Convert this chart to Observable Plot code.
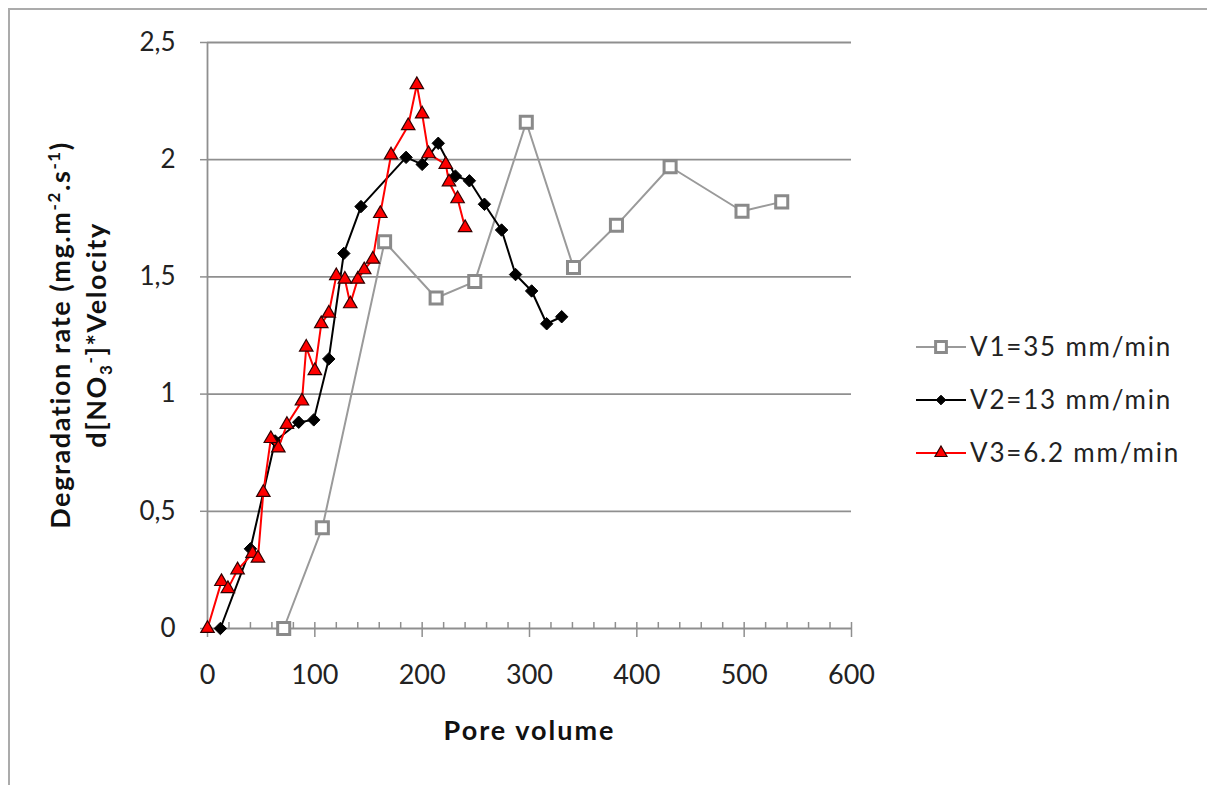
<!DOCTYPE html>
<html><head><meta charset="utf-8">
<script src="https://cdn.jsdelivr.net/npm/d3@7"></script>
<script src="https://cdn.jsdelivr.net/npm/@observablehq/plot@0.6"></script>
<style>
body{margin:0;background:#fff;}
#chart{position:relative;width:1207px;height:785px;}
</style></head><body><div id="chart"></div>
<script>
// ---- data ----
const seriesNames = ["V1=35 mm/min", "V2=13 mm/min", "V3=6.2 mm/min"];

const v1X = [71, 107, 165, 213, 249, 297, 341, 381, 431, 498, 535];
const v1Y = [0, 0.43, 1.65, 1.41, 1.48, 2.16, 1.54, 1.72, 1.97, 1.78, 1.82];

const v2X = [12, 40, 63, 85, 99, 113, 127, 143, 185, 200, 215, 231, 244, 258, 274, 287, 302, 316, 330];
const v2Y = [0, 0.34, 0.80, 0.88, 0.89, 1.15, 1.60, 1.80, 2.01, 1.98, 2.07, 1.93, 1.91, 1.81, 1.70, 1.51, 1.44, 1.30, 1.33];

const v3X = [0, 13, 19, 28, 42, 47, 52, 59, 66, 74, 88, 92, 100, 106, 113, 120, 128, 133, 140, 146, 154, 161, 171, 187, 195, 200, 206, 222, 225, 233, 240];
const v3Y = [0, 0.20, 0.17, 0.25, 0.32, 0.30, 0.58, 0.81, 0.77, 0.87, 0.97, 1.20, 1.10, 1.30, 1.345, 1.505, 1.49, 1.385, 1.49, 1.53, 1.575, 1.77, 2.02, 2.145, 2.32, 2.195, 2.025, 1.98, 1.905, 1.833, 1.71];

const xTicks = [0, 100, 200, 300, 400, 500, 600];
const xMinorTicks = [20, 40, 60, 80, 120, 140, 160, 180, 220, 240, 260, 280, 320, 340, 360, 380, 420, 440, 460, 480, 520, 540, 560, 580];
const yTicks = [0, 0.5, 1, 1.5, 2, 2.5];
const yTickLabels = ["0", "0,5", "1", "1,5", "2", "2,5"];
const xTitle = "Pore volume";

// ---- tables ----
const toRows = (X, Y) => X.map((x, i) => ({x, y: Y[i]}));
const d1 = toRows(v1X, v1Y), d2 = toRows(v2X, v2Y), d3r = toRows(v3X, v3Y);

const axisGray = "#8f8f8f";
const styles = [
  {line: "#9a9a9a", symbol: "square", r: 6.8, fill: "white", stroke: "#8a8a8a", sw: 3},
  {line: "#000000", symbol: "diamond2", r: 5.6, fill: "black", stroke: "black", sw: 1},
  {line: "#ff0000", symbol: "triangle", r: 5.0, fill: "#ff0000", stroke: "#300000", sw: 1.2}
];

const plot = Plot.plot({
  width: 1207, height: 785,
  marginLeft: 207, marginRight: 356, marginTop: 42, marginBottom: 157,
  x: {domain: [0, 600]},
  y: {domain: [0, 2.5]},
  style: {fontFamily: "Lato, sans-serif", fontSize: "26px", color: "#222", background: "transparent"},
  marks: [
    Plot.gridY(yTicks.filter(d => d > 0), {stroke: axisGray, strokeOpacity: 1, strokeWidth: 1.8}),
    Plot.ruleX([0], {stroke: axisGray, strokeWidth: 1.8}),
    Plot.ruleY([0], {stroke: axisGray, strokeWidth: 1.8}),
    Plot.tickX(xMinorTicks, {x: d => d, stroke: axisGray, strokeWidth: 1.5, insetTop: 580}),
    Plot.tickX(xTicks, {x: d => d, stroke: axisGray, strokeWidth: 1.5, insetTop: 580, insetBottom: -9}),
    Plot.tickY(yTicks, {y: d => d, stroke: axisGray, strokeWidth: 1.5, insetLeft: -7, insetRight: 644}),
    Plot.axisX(xTicks, {tickSize: 0, tickPadding: 36, fontSize: 27, tickFormat: d => String(d), label: null}),
    Plot.axisY(yTicks, {tickSize: 0, tickPadding: 32, tickFormat: d => yTickLabels[yTicks.indexOf(d)], label: null}),
    Plot.text([xTitle], {frameAnchor: "bottom", dy: 111, fontSize: 27, fontWeight: "bold", fill: "#111"}),
    Plot.line(d1, {x: "x", y: "y", stroke: styles[0].line, strokeWidth: 2}),
    Plot.dot(d1, {x: "x", y: "y", symbol: styles[0].symbol, r: styles[0].r, fill: styles[0].fill, stroke: styles[0].stroke, strokeWidth: styles[0].sw}),
    Plot.line(d2, {x: "x", y: "y", stroke: styles[1].line, strokeWidth: 2}),
    Plot.dot(d2, {x: "x", y: "y", symbol: styles[1].symbol, r: styles[1].r, fill: styles[1].fill, stroke: styles[1].stroke, strokeWidth: styles[1].sw}),
    Plot.line(d3r, {x: "x", y: "y", stroke: styles[2].line, strokeWidth: 2}),
    Plot.dot(d3r, {x: "x", y: "y", symbol: styles[2].symbol, r: styles[2].r, fill: styles[2].fill, stroke: styles[2].stroke, strokeWidth: styles[2].sw})
  ]
});
document.getElementById("chart").appendChild(plot);

const svg = d3.select(plot);
// letter spacing for the x title
svg.selectAll("text").filter(function() { return this.textContent === xTitle; }).style("letter-spacing", "2px");

// outer frame (top and left edges visible)
svg.append("path").attr("d", "M9,785V9H1207").attr("fill", "none").attr("stroke", "#ababab").attr("stroke-width", 2);

// y-axis title (two lines, rotated) with sub/superscripts
const t1 = svg.append("text").attr("transform", "translate(70,335) rotate(-90)")
  .attr("text-anchor", "middle").attr("font-weight", "bold").attr("font-size", "27px")
  .style("letter-spacing", "1.6px").attr("fill", "#111");
t1.append("tspan").text("Degradation rate (mg.m");
t1.append("tspan").attr("dy", -10).attr("font-size", "17px").text("-2");
t1.append("tspan").attr("dy", 10).text(".s");
t1.append("tspan").attr("dy", -10).attr("font-size", "17px").text("-1");
t1.append("tspan").attr("dy", 10).text(")");

const t2 = svg.append("text").attr("transform", "translate(106,335) rotate(-90)")
  .attr("text-anchor", "middle").attr("font-weight", "bold").attr("font-size", "27px")
  .style("letter-spacing", "1.6px").attr("fill", "#111");
t2.append("tspan").text("d[NO");
t2.append("tspan").attr("dy", 6).attr("font-size", "17px").text("3");
t2.append("tspan").attr("dy", -16).attr("font-size", "17px").text("-");
t2.append("tspan").attr("dy", 10).text("]*Velocity");

// legend
const symMap = {square: d3.symbolSquare, diamond2: d3.symbolDiamond2, triangle: d3.symbolTriangle};
const lg = svg.append("g").attr("font-family", "Lato, sans-serif").attr("font-size", "26px");
seriesNames.forEach((name, i) => {
  const s = styles[i];
  const y = 347 + i * 53;
  const g = lg.append("g").attr("transform", `translate(0,${y})`);
  g.append("line").attr("x1", 916).attr("x2", 966).attr("y1", 0).attr("y2", 0).attr("stroke", s.line).attr("stroke-width", 2);
  const size = Math.PI * s.r * s.r * (i === 1 ? 0.6 : 0.8);
  g.append("path").attr("d", d3.symbol(symMap[s.symbol], size)()).attr("transform", "translate(941,0)")
    .attr("fill", s.fill).attr("stroke", s.stroke).attr("stroke-width", s.sw);
  g.append("text").attr("x", 970).attr("y", 9).attr("text-anchor", "start")
    .style("letter-spacing", "1.8px").attr("fill", "#222").text(name);
});
</script></body></html>
